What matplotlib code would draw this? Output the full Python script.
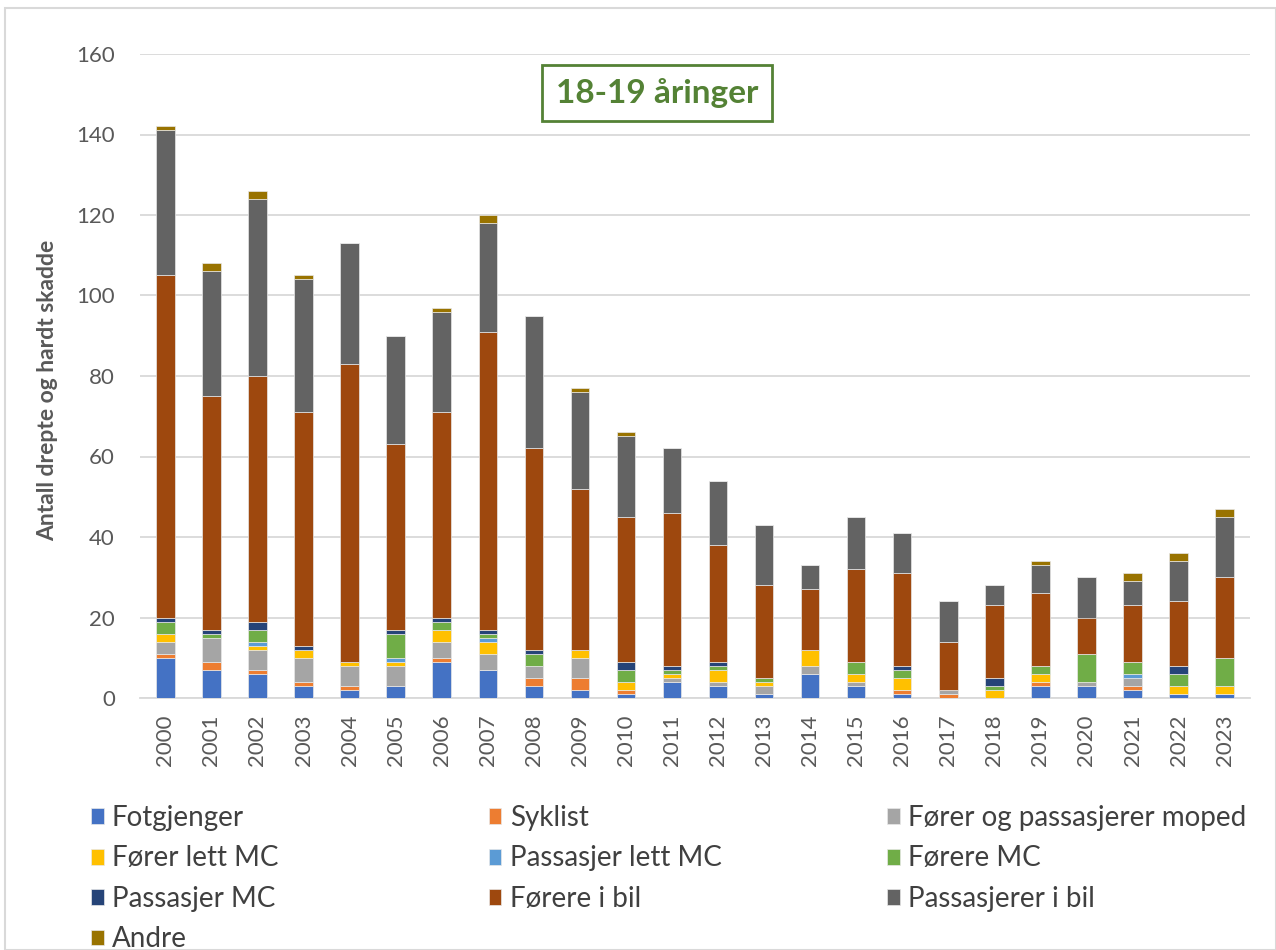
import matplotlib
matplotlib.use("Agg")
import matplotlib.pyplot as plt
import matplotlib.patches as mpatches
import numpy as np

years = [str(y) for y in range(2000, 2024)]
categories = ["Fotgjenger", "Syklist", "Fører og passasjerer moped", "Fører lett MC",
              "Passasjer lett MC", "Førere MC", "Passasjer MC", "Førere i bil",
              "Passasjerer i bil", "Andre"]
colors = ["#4472C4", "#ED7D31", "#A5A5A5", "#FFC000", "#5B9BD5", "#70AD47",
          "#264478", "#9E480E", "#636363", "#997300"]

fotgjenger = [10, 7, 6, 3, 2, 3, 9, 7, 3, 2, 1, 4, 3, 1, 6, 3, 1, 0, 0, 3, 3, 2, 1, 1]
syklist = [1, 2, 1, 1, 1, 0, 1, 0, 2, 3, 1, 0, 0, 0, 0, 0, 1, 1, 0, 1, 0, 1, 0, 0]
moped = [3, 6, 5, 6, 5, 5, 4, 4, 3, 5, 0, 1, 1, 2, 2, 1, 0, 1, 0, 0, 1, 2, 0, 0]
forer_lett_mc = [2, 0, 1, 2, 1, 1, 3, 3, 0, 2, 2, 1, 3, 1, 4, 2, 3, 0, 2, 2, 0, 0, 2, 2]
passasjer_lett_mc = [0, 0, 1, 0, 0, 1, 0, 1, 0, 0, 0, 0, 0, 0, 0, 0, 0, 0, 0, 0, 0, 1, 0, 0]
forere_mc = [3, 1, 3, 0, 0, 6, 2, 1, 3, 0, 3, 1, 1, 1, 0, 3, 2, 0, 1, 2, 7, 3, 3, 7]
passasjer_mc = [1, 1, 2, 1, 0, 1, 1, 1, 1, 0, 2, 1, 1, 0, 0, 0, 1, 0, 2, 0, 0, 0, 2, 0]
forere_i_bil = [85, 58, 61, 58, 74, 46, 51, 74, 50, 40, 36, 38, 29, 23, 15, 23, 23, 12, 18, 18, 9, 14, 16, 20]
passasjerer_i_bil = [36, 31, 44, 33, 30, 27, 25, 27, 33, 24, 20, 16, 16, 15, 6, 13, 10, 10, 5, 7, 10, 6, 10, 15]
andre = [1, 2, 2, 1, 0, 0, 1, 2, 0, 1, 1, 0, 0, 0, 0, 0, 0, 0, 0, 1, 0, 2, 2, 2]

series = [fotgjenger, syklist, moped, forer_lett_mc, passasjer_lett_mc, forere_mc,
          passasjer_mc, forere_i_bil, passasjerer_i_bil, andre]

FONT = ["Lato", "DejaVu Sans"]
plt.rcParams["font.family"] = FONT

fig = plt.figure(figsize=(12.76, 9.5), dpi=100)
ax = fig.add_axes([140/1276, 1-698/950, (1250-140)/1276, (698-54)/950])

x = np.arange(len(years))
bottom = np.zeros(len(years))
handles = []
for vals, name, col in zip(series, categories, colors):
    v = np.array(vals, dtype=float)
    b = ax.bar(x, v, width=0.4, bottom=bottom, color=col, label=name,
               edgecolor="#e8e8e8", linewidth=0.5, zorder=3)
    handles.append(b)
    bottom += v

ax.set_ylim(0, 160)
ax.set_xlim(-0.55, len(years) - 0.45)
ax.set_yticks(range(0, 161, 20))
ax.yaxis.grid(True, color="#d9d9d9", linewidth=1.3, zorder=0)
ax.set_axisbelow(True)
for s in ["top", "right", "left"]:
    ax.spines[s].set_visible(False)
ax.spines["bottom"].set_color("#d9d9d9")
ax.spines["bottom"].set_linewidth(1.3)
ax.set_xticks(x)
ax.set_xticklabels(years, rotation=90, fontsize=16, color="#404040")
ax.tick_params(axis="both", length=0, colors="#595959")
ax.tick_params(axis="y", labelsize=16, pad=18)
ax.tick_params(axis="x", pad=12)
ax.set_ylabel("Antall drepte og hardt skadde", fontsize=16.5, fontweight="bold",
              color="#595959")
ax.yaxis.set_label_coords((58 - 140) / 1110, (698 - 390) / 644)

ax.text((657 - 140) / 1110, (698 - 93) / 644, "18-19 åringer", transform=ax.transAxes,
        ha="center", va="center", fontsize=24, fontweight="bold", color="#548235", zorder=5,
        bbox=dict(boxstyle="square,pad=0.4", facecolor="white", edgecolor="#548235", linewidth=2))

# legend in three columns, row-wise order
col_x = [91/1276, 489/1276, 887/1276]
for ci in range(3):
    idx = list(range(ci, len(categories), 3))
    leg = fig.legend([handles[i] for i in idx], [categories[i] for i in idx],
                     loc="upper left", bbox_to_anchor=(col_x[ci], 1-805/950),
                     frameon=False, fontsize=20, handlelength=0.45, handleheight=0.5,
                     handletextpad=0.3, labelspacing=0.52, borderaxespad=0, borderpad=0)
    for t in leg.get_texts():
        t.set_color("#404040")

fig.patches.append(mpatches.Rectangle((5/1276, 0), 1 - 5/1276, 1 - 8/950, transform=fig.transFigure,
                                      fill=False, edgecolor="#d9d9d9", linewidth=1.5))

fig.savefig("out.png", dpi=100)
